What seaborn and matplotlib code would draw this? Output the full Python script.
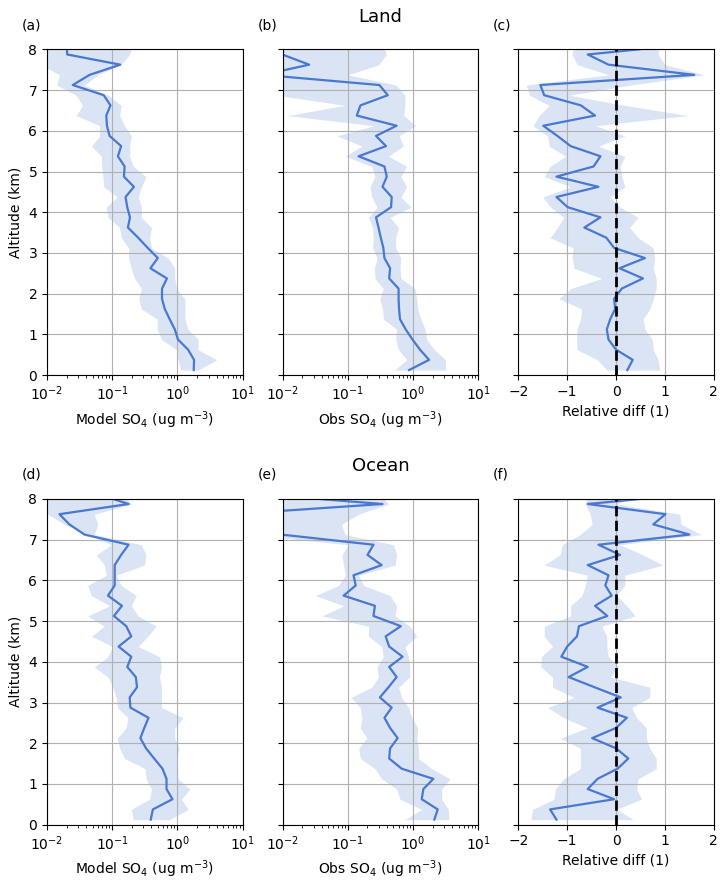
import numpy as np
import pandas as pd
import seaborn as sns
import matplotlib
matplotlib.use("Agg")
import matplotlib.pyplot as plt

# altitude bin centres (km), shared by every panel
alt = [0.125, 0.375, 0.625, 0.875, 1.125, 1.375, 1.625, 1.875, 2.125, 2.375,
       2.625, 2.875, 3.125, 3.375, 3.625, 3.875, 4.125, 4.375, 4.625, 4.875,
       5.125, 5.375, 5.625, 5.875, 6.125, 6.375, 6.625, 6.875, 7.125, 7.375,
       7.625, 7.875, 8.125]

# (a) land, model SO4
land_mod = [1.78, 1.8, 1.46, 1.02, 0.91, 0.76, 0.64, 0.58, 0.58, 0.69, 0.385, 0.50,
            0.35, 0.25, 0.174, 0.187, 0.17, 0.16, 0.215, 0.151, 0.155, 0.122, 0.137,
            0.091, 0.083, 0.081, 0.094, 0.074, 0.0248, 0.045, 0.133, 0.0204, 0.02]
land_mod_lo = [1.13, 1.02, 0.97, 0.57, 0.49, 0.49, 0.28, 0.254, 0.28, 0.22, 0.196, 0.178,
               0.178, 0.137, 0.13, 0.086, 0.081, 0.119, 0.074, 0.072, 0.069, 0.068, 0.048,
               0.064, 0.064, 0.028, 0.035, 0.028, 0.014, 0.0155, 0.008, 0.008, 0.008]
land_mod_hi = [2.08, 4.0, 2.08, 2.08, 1.46, 1.30, 1.30, 1.30, 0.97, 0.91, 0.91, 0.72,
               0.40, 0.375, 0.40, 0.28, 0.28, 0.25, 0.28, 0.33, 0.21, 0.185, 0.185,
               0.196, 0.155, 0.13, 0.137, 0.086, 0.0375, 0.06, 0.137, 0.185, 0.2]

# (b) land, observed SO4
land_obs = [0.87, 1.76, 1.28, 0.98, 0.77, 0.63, 0.61, 0.60, 0.60, 0.43, 0.445, 0.364,
            0.35, 0.32, 0.295, 0.27, 0.46, 0.47, 0.34, 0.395, 0.364, 0.146, 0.385,
            0.27, 0.56, 0.137, 0.156, 0.41, 0.304, 0.005, 0.0255, 0.0098, 0.005]
land_obs_lo = [0.52, 0.80, 0.60, 0.54, 0.56, 0.35, 0.34, 0.31, 0.35, 0.26, 0.256, 0.28,
               0.24, 0.247, 0.24, 0.207, 0.28, 0.233, 0.22, 0.26, 0.233, 0.091, 0.164,
               0.068, 0.25, 0.012, 0.09, 0.008, 0.004, 0.002, 0.003, 0.003, 0.003]
land_obs_hi = [3.16, 3.16, 2.12, 1.62, 1.53, 1.32, 1.18, 1.14, 1.07, 0.65, 0.63, 0.65,
               0.54, 0.54, 0.60, 0.445, 0.93, 0.65, 0.80, 0.65, 0.80, 0.42, 0.71,
               0.61, 1.1, 0.72, 0.75, 0.75, 0.55, 0.1, 0.30, 0.39, 0.35]

# (c) land, relative difference
land_rel = [0.23, 0.34, 0.0, -0.155, -0.19, -0.12, -0.02, -0.04, 0.115, 0.55, 0.07, 0.59,
            -0.04, -0.2, -0.65, -0.32, -0.99, -1.22, -0.36, -1.22, -0.46, -0.32, -0.93,
            -1.2, -1.49, -0.43, -0.72, -1.47, -1.55, 1.6, -0.155, -0.58, 1.5]
land_rel_lo = [-0.19, -0.38, -0.8, -0.81, -0.8, -0.73, -0.7, -1.17, -0.93, -0.29, -0.86, -0.9,
               -0.88, -1.35, -1.2, -1.07, -1.34, -1.5, -0.93, -1.47, -1.35, -1.03, -1.37,
               -1.4, -1.7, -1.57, -1.37, -1.77, -1.84, -0.15, -0.8, -0.9, -0.86]
land_rel_hi = [0.89, 0.86, 0.76, 0.74, 0.59, 0.55, 0.69, 0.76, 0.82, 0.82, 0.76, 0.79,
               0.76, 0.45, 0.28, 0.45, 0.08, -0.12, 0.18, 0.115, 0.08, 0.18, -0.36,
               0.18, -0.42, 1.46, 0.18, -0.96, 0.3, 1.8, 1.0, 0.86, 0.9]

# (d) ocean, model SO4
ocean_mod = [0.39, 0.42, 0.84, 0.68, 0.68, 0.59, 0.44, 0.33, 0.27, 0.31, 0.36, 0.19,
             0.185, 0.24, 0.23, 0.17, 0.196, 0.125, 0.196, 0.164, 0.106, 0.141, 0.086,
             0.109, 0.109, 0.109, 0.137, 0.178, 0.0375, 0.022, 0.0155, 0.178, 0.059]
ocean_mod_lo = [0.21, 0.196, 0.375, 0.40, 0.33, 0.32, 0.155, 0.13, 0.119, 0.164, 0.174, 0.12,
                0.115, 0.102, 0.086, 0.053, 0.086, 0.102, 0.048, 0.076, 0.042, 0.091, 0.048,
                0.042, 0.081, 0.076, 0.057, 0.097, 0.042, 0.0185, 0.0102, 0.008, 0.008]
ocean_mod_hi = [0.76, 1.46, 1.15, 1.55, 1.02, 1.0, 0.97, 1.06, 0.91, 0.91, 1.22, 0.57,
                0.57, 0.57, 0.53, 0.57, 0.53, 0.25, 0.35, 0.475, 0.25, 0.196, 0.234,
                0.137, 0.115, 0.31, 0.33, 0.28, 0.053, 0.06, 0.053, 0.2, 0.137]

# (e) ocean, observed SO4
ocean_obs = [2.12, 2.39, 1.36, 1.44, 2.05, 0.67, 0.43, 0.445, 0.58, 0.445, 0.364, 0.47,
             0.31, 0.42, 0.56, 0.43, 0.69, 0.43, 0.38, 0.65, 0.247, 0.26, 0.086,
             0.132, 0.122, 0.33, 0.20, 0.247, 0.0095, 0.001, 0.0017, 0.34, 0.0037]
ocean_obs_lo = [0.755, 1.36, 0.63, 0.56, 0.33, 0.26, 0.155, 0.147, 0.195, 0.155, 0.164, 0.155,
                0.112, 0.233, 0.294, 0.28, 0.35, 0.33, 0.207, 0.207, 0.04, 0.086, 0.0316,
                0.072, 0.091, 0.086, 0.081, 0.102, 0.003, 0.001, 0.001, 0.003, 0.003]
ocean_obs_hi = [3.55, 3.47, 2.75, 2.75, 3.68, 1.93, 1.21, 1.21, 1.14, 1.18, 0.955, 0.85,
                0.67, 0.60, 0.89, 0.89, 0.85, 0.755, 1.14, 0.89, 0.53, 0.56, 0.445,
                0.174, 0.146, 0.53, 0.56, 0.50, 0.09, 0.08, 0.146, 0.42, 0.3]

# (f) ocean, relative difference
ocean_rel = [-1.22, -1.35, -0.04, -0.58, -0.38, 0.03, 0.25, 0.0, -0.49, 0.0, 0.22, -0.38,
             0.095, -0.44, -0.97, -0.58, -1.12, -1.0, -0.8, -0.76, -0.18, -0.43, -0.09,
             -0.22, -0.155, -0.58, 0.08, -0.36, 1.5, 0.76, 1.01, -0.58, 1.6]
ocean_rel_lo = [-1.74, -1.71, -1.27, -1.24, -1.07, -0.73, -0.73, -0.73, -1.14, -0.59, -1.07, -1.4,
                -0.86, -1.3, -1.3, -1.54, -1.53, -1.3, -1.47, -1.47, -0.93, -0.93, -0.7,
                -0.63, -0.59, -1.47, -1.15, -1.1, -0.73, -0.49, -0.53, -0.63, -0.59]
ocean_rel_hi = [0.35, 0.01, 0.52, 0.42, 0.45, 0.82, 0.82, 0.69, 0.62, 0.62, 0.42, 0.32,
                0.69, 0.69, -0.12, 0.05, -0.16, -0.19, -0.19, -0.29, 0.39, 0.22, 0.01,
                0.18, 0.18, 0.96, 0.55, 0.08, 1.74, 1.33, 1.3, 0.01, 0.55]

panels = [
    ("(a)", land_mod, land_mod_lo, land_mod_hi, "Model SO$_4$ (ug m$^{-3}$)"),
    ("(b)", land_obs, land_obs_lo, land_obs_hi, "Obs SO$_4$ (ug m$^{-3}$)"),
    ("(c)", land_rel, land_rel_lo, land_rel_hi, "Relative diff (1)"),
    ("(d)", ocean_mod, ocean_mod_lo, ocean_mod_hi, "Model SO$_4$ (ug m$^{-3}$)"),
    ("(e)", ocean_obs, ocean_obs_lo, ocean_obs_hi, "Obs SO$_4$ (ug m$^{-3}$)"),
    ("(f)", ocean_rel, ocean_rel_lo, ocean_rel_hi, "Relative diff (1)"),
]

blue = sns.color_palette("muted")[0]

fig, axes = plt.subplots(2, 3, figsize=(7.24, 8.82), dpi=100, sharey=True)
fig.subplots_adjust(left=0.065, right=0.986, top=0.944, bottom=0.065,
                    wspace=0.205, hspace=0.38)

for i, (lab, mean, lo, hi, xlab) in enumerate(panels):
    ax = axes.flat[i]
    rel = (i % 3 == 2)
    if not rel:
        ax.set_xscale("log")
    df = pd.DataFrame({"alt": alt, "val": mean, "lo": lo, "hi": hi})
    ax.fill_betweenx(df["alt"], df["lo"], df["hi"], color=blue, alpha=0.2, lw=0)
    sns.lineplot(data=df, x="val", y="alt", orient="y", sort=False, estimator=None,
                 color=blue, lw=1.6, ax=ax)
    if rel:
        ax.axvline(0, color="k", ls="--", lw=2)
        ax.set_xlim(-2, 2)
        ax.set_xticks([-2, -1, 0, 1, 2])
    else:
        ax.set_xlim(1e-2, 1e1)
    ax.set_ylim(0, 8)
    ax.set_yticks(range(9))
    ax.grid(True, color="#b0b0b0", lw=0.8)
    ax.set_xlabel(xlab, fontsize=10)
    ax.set_ylabel("Altitude (km)" if i % 3 == 0 else "", fontsize=10)
    ax.text(-0.13, 1.074, lab, transform=ax.transAxes, fontsize=10,
            ha="left", va="center")

axes[0, 1].set_title("Land", fontsize=13, pad=20)
axes[1, 1].set_title("Ocean", fontsize=13, pad=20)

fig.savefig("out.png", dpi=100)
